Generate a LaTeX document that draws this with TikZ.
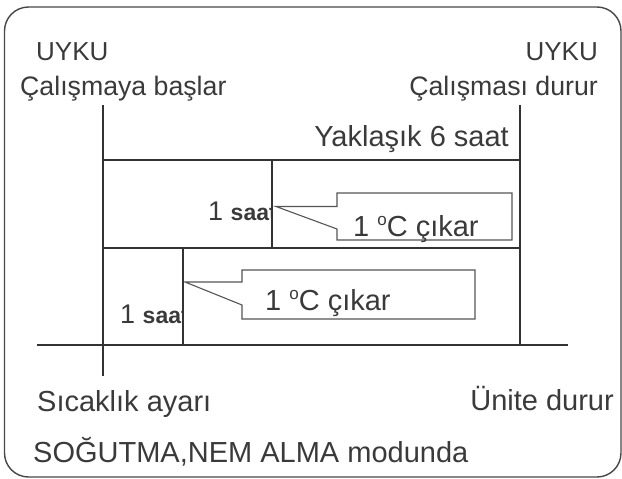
\documentclass[tikz,border=0pt]{standalone}
\usepackage{fontspec}
\setmainfont{Liberation Sans}
\definecolor{ink}{HTML}{333333}
\definecolor{txt}{HTML}{3A3A3A}
\definecolor{thin}{HTML}{555555}
\begin{document}
\begin{tikzpicture}[x=1pt,y=-1pt,
  axisline/.style={draw=ink,line width=2.8pt},
  callout/.style={draw=thin,line width=1.1pt,fill=white},
  frame/.style={draw=ink!90,line width=1.4pt,rounded corners=24pt},
  lbl/.style={inner sep=0pt,text=txt,font=\fontsize{29}{33}\selectfont},
  toplbl/.style={inner sep=0pt,text=txt,font=\fontsize{26.7}{30}\selectfont},
  uyku/.style={inner sep=0pt,text=txt,font=\fontsize{26}{29}\selectfont},
  small/.style={inner sep=0pt,text=txt,font=\fontsize{27}{30}\selectfont}]
\useasboundingbox (0,0) rectangle (622,479);
\path[frame] (4.5,7) rectangle (621,477);
% coordinates
\coordinate (Ltop) at (103,105);
\coordinate (Lbot) at (103,376);
\coordinate (Rtop) at (520,105);
\coordinate (Rbot) at (520,345);
\coordinate (H1a) at (103,160);
\coordinate (H1b) at (520,160);
\coordinate (H2a) at (103,248);
\coordinate (H2b) at (520,248);
\coordinate (V1a) at (272,160);
\coordinate (V1b) at (272,248);
\coordinate (V2a) at (183,248);
\coordinate (V2b) at (183,345);
\coordinate (Axa) at (37,345);
\coordinate (Axb) at (568,345);
% texts
\node[uyku,anchor=base west] (uykuL) at (36,60) {UYKU};
\node[toplbl,anchor=base west] (startL) at (20,95) {Çalışmaya başlar};
\node[uyku,anchor=base east] (uykuR) at (598,60) {UYKU};
\node[toplbl,anchor=base east] (stopR) at (598,95) {Çalışması durur};
\node[lbl,anchor=base east] (dur) at (509,146) {Yaklaşık 6 saat};
\node[lbl,anchor=base west] (temp) at (37,411) {Sıcaklık ayarı};
\node[lbl,anchor=base east] (unit) at (614,410) {Ünite durur};
\node[lbl,anchor=base west] (mode) at (33,462) {SOĞUTMA,NEM ALMA modunda};
% hour labels clipped by boxes
\begin{scope}
\clip (103,160) rectangle (272,248);
\node[small,anchor=base west] (h1) at (208,220) {1 {\bfseries\fontsize{23}{26}\selectfont saat}};
\end{scope}
\begin{scope}
\clip (103,248) rectangle (183,345);
\node[small,anchor=base west] (h2) at (120,323) {1 {\bfseries\fontsize{23}{26}\selectfont saat}};
\end{scope}
% callouts
\path[callout] (337,193) -- (512,193) -- (512,240) -- (337,240) -- (337,229) -- (276,206.5) -- (337,206.5) -- cycle;
\path[callout] (242,270) -- (475,270) -- (475,319) -- (242,319) -- (242,305) -- (185,282) -- (242,282) -- cycle;
\node[lbl,anchor=base west] (c1) at (353,236) {1 \raisebox{0.36em}{\fontsize{17}{17}\selectfont o}C çıkar};
\node[lbl,anchor=base west] (c2) at (265,310) {1 \raisebox{0.36em}{\fontsize{17}{17}\selectfont o}C çıkar};
% chart lines
\draw[axisline] (Ltop) -- (Lbot);
\draw[axisline] (Rtop) -- (Rbot);
\draw[axisline] (H1a) -- (H1b);
\draw[axisline] (H2a) -- (H2b);
\draw[axisline] (V1a) -- (V1b);
\draw[axisline] (V2a) -- (V2b);
\draw[axisline] (Axa) -- (Axb);
\end{tikzpicture}
\end{document}
